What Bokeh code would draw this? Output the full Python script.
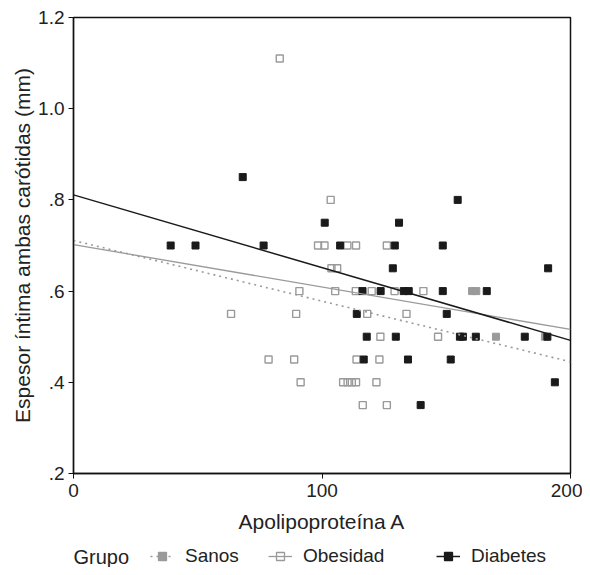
from bokeh.plotting import figure
from bokeh.layouts import column
from bokeh.models import Range1d, FixedTicker, Legend, LegendItem, Label
from bokeh.embed import file_html
from bokeh.resources import INLINE

# ---- data ----
sanos_x = [160.4, 162.1, 170.0, 189.7]
sanos_y = [0.60, 0.60, 0.50, 0.50]

obes_x = [83.0, 103.5, 98.4, 101.0, 110.2, 113.7, 126.1, 103.8, 106.1,
          90.9, 105.3, 113.6, 120.0, 129.2, 140.8, 63.4, 89.6, 118.2, 134.0,
          123.5, 146.7, 78.5, 88.8, 113.9, 123.1,
          91.4, 108.5, 110.3, 112.0, 113.7, 121.9, 116.4, 126.1]
obes_y = [1.11, 0.80, 0.70, 0.70, 0.70, 0.70, 0.70, 0.65, 0.65,
          0.60, 0.60, 0.60, 0.60, 0.60, 0.60, 0.55, 0.55, 0.55, 0.55,
          0.50, 0.50, 0.45, 0.45, 0.45, 0.45,
          0.40, 0.40, 0.40, 0.40, 0.40, 0.40, 0.35, 0.35]

diab_x = [68.1, 101.1, 131.0, 154.6,
          39.1, 49.1, 76.5, 107.3, 129.3, 148.6,
          128.5, 191.0,
          116.3, 123.6, 132.9, 134.9, 148.6, 166.3,
          114.0, 150.2,
          118.0, 129.7, 155.5, 156.7, 161.9, 181.6, 190.7,
          116.8, 134.6, 151.8, 193.7, 139.7]
diab_y = [0.85, 0.75, 0.75, 0.80,
          0.70, 0.70, 0.70, 0.70, 0.70, 0.70,
          0.65, 0.65,
          0.60, 0.60, 0.60, 0.60, 0.60, 0.60,
          0.55, 0.55,
          0.50, 0.50, 0.50, 0.50, 0.50, 0.50, 0.50,
          0.45, 0.45, 0.45, 0.40, 0.35]

# fitted lines (values at x = 0 and x = 200)
fit_x = [0, 200]
sanos_fit = [0.711, 0.445]
obes_fit = [0.702, 0.516]
diab_fit = [0.811, 0.492]

x_ticks = [0, 100, 200]
y_ticks = [0.2, 0.4, 0.6, 0.8, 1.0, 1.2]
y_tick_labels = [".2", ".4", ".6", ".8", "1.0", "1.2"]

groups = ["Sanos", "Obesidad", "Diabetes"]
legend_title = "Grupo"

FONT = "Liberation Sans"
TXT = "#222222"
GRAY = "#9a9a9a"
BLACK = "#1a1a1a"
W = 582

p = figure(width=W, height=540, output_backend="svg", toolbar_location=None,
           x_range=Range1d(0, 200), y_range=Range1d(0.2, 1.2),
           min_border_left=73, min_border_top=17, min_border_right=12,
           min_border_bottom=67)
p.xgrid.visible = False
p.ygrid.visible = False
p.outline_line_color = "#111111"
p.outline_line_width = 1.5

p.xaxis.ticker = FixedTicker(ticks=x_ticks)
p.yaxis.ticker = FixedTicker(ticks=y_ticks)
p.yaxis.major_label_overrides = {float(t): l for t, l in zip(y_ticks, y_tick_labels)}

for ax in (p.xaxis[0], p.yaxis[0]):
    ax.axis_line_color = "#111111"
    ax.axis_line_width = 1.3
    ax.major_tick_line_color = "#111111"
    ax.major_tick_out = 5
    ax.major_tick_in = 0
    ax.minor_tick_out = 0
    ax.minor_tick_in = 0
    ax.major_label_text_font = FONT
    ax.major_label_text_font_size = "19px"
    ax.major_label_text_color = TXT
    ax.axis_label_text_font = FONT
    ax.axis_label_text_font_size = "21px"
    ax.axis_label_text_font_style = "normal"
    ax.axis_label_text_color = TXT

p.xaxis.axis_label = "Apolipoproteína A"
p.yaxis.axis_label = "Espesor íntima ambas carótidas (mm)"
p.xaxis.major_label_standoff = 5
p.xaxis.axis_label_standoff = 10
p.yaxis.major_label_standoff = 4
p.yaxis.axis_label_standoff = 1

p.scatter(sanos_x, sanos_y, marker="square", size=7,
          fill_color=GRAY, line_color=GRAY)
p.scatter(obes_x, obes_y, marker="square", size=7,
          fill_alpha=0, line_color=GRAY, line_width=1.4)
p.scatter(diab_x, diab_y, marker="square", size=7,
          fill_color=BLACK, line_color=BLACK)

p.line(fit_x, sanos_fit, line_color=GRAY, line_width=1.6, line_dash="2 4")
p.line(fit_x, obes_fit, line_color=GRAY, line_width=1.3)
p.line(fit_x, diab_fit, line_color=BLACK, line_width=1.5)

# ---- legend strip below the chart (its renderers lie outside its ranges) ----
# positions below are measured from the strip's frame, which lines up with the chart's
lg = figure(width=W, height=27, output_backend="svg", toolbar_location=None,
            x_range=Range1d(1000, 1001), y_range=Range1d(1000, 1001),
            x_axis_location=None, y_axis_location=None, min_border=0)
lg.grid.visible = False
lg.outline_line_color = None

styles = [dict(lc=GRAY, dash="2 4", lw=1.6, fc=GRAY, fa=1.0),
          dict(lc=GRAY, dash="solid", lw=1.3, fc=GRAY, fa=0.0),
          dict(lc=BLACK, dash="solid", lw=1.5, fc=BLACK, fa=1.0)]
series = [(sanos_x, sanos_y, sanos_fit), (obes_x, obes_y, obes_fit),
          (diab_x, diab_y, diab_fit)]
glyph_starts = [77, 195, 363]
for name, st, (gx_, gy_, gf_), gx in zip(groups, styles, series, glyph_starts):
    rl = lg.line(fit_x, gf_, line_color=st["lc"], line_dash=st["dash"],
                 line_width=st["lw"])
    rs = lg.scatter(gx_, gy_, marker="square", size=7, fill_color=st["fc"],
                    fill_alpha=st["fa"], line_color=st["lc"], line_width=1.3)
    leg = Legend(items=[LegendItem(label=name, renderers=[rl, rs])],
                 location=(gx, 0), padding=0, margin=0, border_line_alpha=0,
                 background_fill_alpha=0, label_text_font=FONT,
                 label_text_font_size="19px", label_text_color=TXT,
                 glyph_width=24, glyph_height=20, label_standoff=11)
    lg.add_layout(leg)

lg.add_layout(Label(x=0, y=11, x_units="screen", y_units="screen",
                    text=legend_title, text_font=FONT, text_font_size="20px",
                    text_color=TXT, text_baseline="middle"))

layout = column(p, lg, spacing=0)
open("out.html", "w").write(file_html(layout, INLINE))
